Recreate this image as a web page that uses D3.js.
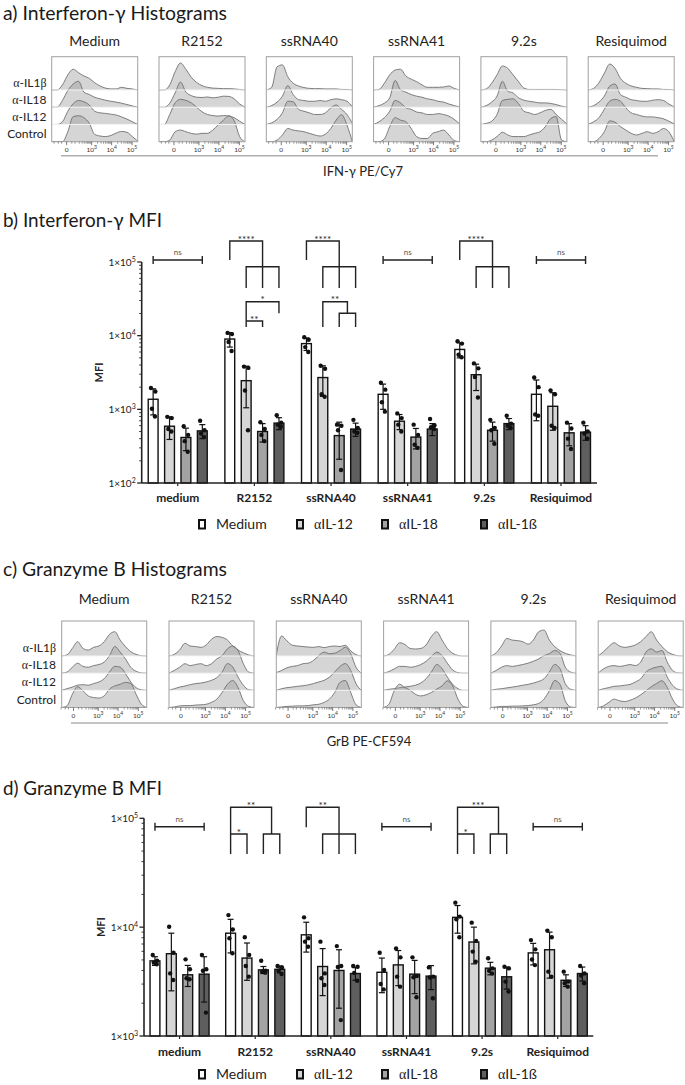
<!DOCTYPE html>
<html><head><meta charset="utf-8">
<script src="https://cdnjs.cloudflare.com/ajax/libs/d3/7.8.5/d3.min.js"></script>
<style>body{margin:0;background:#fff}svg{display:block}text{font-family:Lato,'Open Sans',sans-serif}</style>
</head><body><svg id="c" width="685" height="1085"></svg>
<script>
// ---------------- DATA ----------------
const categories = ['medium','R2152','ssRNA40','ssRNA41','9.2s','Resiquimod'];
const seriesNames = ['Medium','αIL-12','αIL-18','αIL-1ß'];
const histColumns = ['Medium','R2152','ssRNA40','ssRNA41','9.2s','Resiquimod'];
const histRows = ['α-IL1β','α-IL18','α-IL12','Control'];
const histTickValues = [0, 1e3, 1e4, 1e5];
const histTickExp = ['', '3', '4', '5'];
const histMinorTicks = [-200,-100,-50,50,100,200,300,400,500,600,700,800,900,2e3,3e3,4e3,5e3,6e3,7e3,8e3,9e3,2e4,3e4,4e4,5e4,6e4,7e4,8e4,9e4];
const ifnTickValues = [1e2, 1e3, 1e4, 1e5];
const grbTickValues = [1e3, 1e4, 1e5];

// IFN-gamma MFI (panel b): mean, SD, individual donors
const ifnMean = [[1370,590,415,510],[9000,2450,500,650],[7800,2700,440,540],[1600,690,420,540],[6500,2950,520,640],[1600,1100,480,490]];
const ifnSD = [[530,200,140,110],[2000,1400,140,120],[1500,1200,230,110],[600,160,130,100],[1500,1150,150,110],[900,580,160,110]];
const ifnPoints = [
  [[1950,1750,1020,800],[790,760,540,500],[590,450,370,265],[700,520,470,420]],
  [[10900,10500,8200,6200],[3800,3650,1800,520],[670,540,450,370],[830,660,620,580]],
  [[9500,8800,7000,6000],[3900,3550,1600,1480],[620,600,520,150],[720,560,500,480]],
  [[2300,1850,1250,930],[880,760,620,500],[620,450,330,300],[740,610,570,540]],
  [[8400,7800,5500,5100],[4200,3600,2750,1450],[720,560,520,340],[820,640,600,560]],
  [[2700,2000,850,820],[1800,1600,600,560],[660,550,400,290],[660,500,470,400]]
];
// Granzyme B MFI (panel d)
const grbMean = [[4900,5700,3650,3700],[8800,5200,4050,4100],[8500,4350,4000,3750],[3850,4500,3700,3550],[12300,7300,4200,3500],[5800,6200,3250,3750]];
const grbSD = [[450,3100,800,1650],[3000,1950,300,300],[2600,2000,2200,500],[1350,1600,1250,880],[3500,2700,550,800],[1300,2800,400,550]];
const grbPoints = [
  [[5560,4920,4720,4560],[10100,5820,3760,3270],[5060,4100,3390,3320],[5560,4100,3980,1640]],
  [[12900,9500,7900,5750],[8080,5560,4400,3510],[4920,3980,3900,3820],[4400,4270,3980,3710]],
  [[12300,7900,7360,6600],[7360,3760,3390,2940],[6700,4400,4300,1400],[4400,4330,3800,3220]],
  [[5820,4040,3000,2680],[6380,5280,3510,2840],[5280,3560,3460,2270],[4270,3510,3450,2220]],
  [[16800,12500,11800,8080],[11000,7480,5960,4820],[5180,4180,3980,3760],[4330,4180,3160,2560]],
  [[7600,6250,5050,4480],[9300,8080,3900,3510],[3900,3160,3050,2840],[4400,3760,3600,3050]]
];

// Histograms (% of mode, 17 channels), rows: a-IL1b, a-IL18, a-IL12, Control
const ifnHistMedium = [
  [0,0,19,56,77,64,52,43,27,15,7,4,4,10,6,4,0],
  [0,0,25,62,86,96,56,47,37,31,26,22,19,15,10,5,0],
  [0,0,10,49,77,89,84,72,49,43,41,38,35,28,20,10,0],
  [0,0,0,37,93,96,89,68,27,21,19,23,32,38,35,19,2]];
const ifnHistR2152 = [
  [0,0,19,68,100,77,47,28,16,10,7,6,5,5,4,2,0],
  [0,0,15,53,93,56,43,37,36,38,35,37,41,40,31,12,1],
  [0,0,37,80,93,89,80,64,47,37,33,31,33,31,25,12,0],
  [0,0,6,37,43,37,31,28,31,31,43,62,80,96,77,19,0]];
const ifnHistSsRNA40 = [
  [0,10,86,93,49,25,15,9,6,5,5,4,4,4,2,2,0],
  [0,6,19,41,80,47,28,25,22,22,25,22,28,31,28,22,2],
  [0,6,19,43,86,84,56,49,43,37,37,43,62,72,56,37,4],
  [0,0,6,25,49,43,40,37,31,25,21,28,49,80,100,62,0]];
const ifnHistSsRNA41 = [
  [0,2,25,56,74,77,52,40,31,19,10,10,10,11,15,6,0],
  [0,6,15,35,99,65,56,47,41,37,31,28,22,19,12,6,1],
  [0,10,25,49,89,80,62,56,46,43,37,37,40,37,31,19,2],
  [0,0,10,56,89,80,74,49,19,12,12,31,37,43,25,4,0]];
const ifnHist92s = [
  [0,4,25,56,89,80,56,31,7,2,2,2,2,2,2,1,0],
  [0,6,19,41,96,59,53,35,26,22,19,16,16,14,10,4,0],
  [0,4,12,37,89,93,95,77,49,43,37,43,52,56,37,19,2],
  [0,0,6,19,35,25,19,19,19,25,31,37,56,86,93,6,0]];
const ifnHistResiquimod = [
  [0,6,27,62,96,80,43,25,15,10,6,5,4,4,2,2,0],
  [0,6,19,41,78,86,47,37,28,25,22,22,26,28,25,12,1],
  [0,10,25,56,86,93,86,62,43,37,31,28,28,25,21,12,2],
  [0,0,12,37,77,72,56,43,31,25,31,37,31,37,49,37,0]];
const grbHistMedium = [
  [0,4,28,53,28,22,32,37,53,80,90,59,35,16,6,1,0],
  [0,4,22,37,25,22,28,32,41,65,99,78,53,22,7,1,0],
  [0,6,12,19,21,19,25,31,43,68,89,86,62,31,10,2,0],
  [0,6,49,77,62,43,37,35,43,68,80,86,93,89,49,12,0]];
const grbHistR2152 = [
  [0,6,22,47,37,35,32,41,62,72,69,59,37,22,12,4,0],
  [0,10,22,35,28,32,35,28,35,53,65,90,100,84,35,4,0],
  [0,6,12,16,21,25,27,31,37,47,68,99,86,49,19,2,0],
  [0,2,6,7,7,9,10,12,19,31,56,86,100,74,25,4,0]];
const grbHistSsRNA40 = [
  [4,74,56,40,37,35,33,32,35,31,35,37,35,40,19,5,0],
  [2,10,20,25,28,35,37,47,65,78,72,74,84,96,72,22,0],
  [0,6,10,12,15,17,20,25,31,37,49,68,89,99,74,25,0],
  [0,2,4,5,6,6,7,10,12,19,31,56,93,100,56,10,0]];
const grbHistSsRNA41 = [
  [0,6,25,49,43,28,26,28,41,72,90,59,28,10,2,0,0],
  [0,6,16,25,25,22,25,32,44,62,78,65,37,12,2,0,0],
  [0,4,6,10,12,15,19,27,43,68,96,80,49,22,6,0,0],
  [0,12,62,86,74,64,49,43,47,56,68,80,99,80,31,4,0]];
const grbHist92s = [
  [0,12,37,65,59,57,53,44,59,90,96,59,35,20,10,4,0],
  [0,10,22,28,25,28,32,37,44,53,65,72,84,74,22,4,0],
  [0,4,6,9,12,15,19,22,27,33,43,68,96,80,25,4,0],
  [0,2,4,4,5,5,6,7,10,15,31,62,100,86,25,2,0]];
const grbHistResiquimod = [
  [0,16,35,49,37,32,35,41,53,72,90,59,35,16,6,1,0],
  [0,16,25,28,25,28,32,28,41,78,90,78,84,41,10,1,0],
  [0,6,10,15,16,19,22,31,43,68,80,86,89,49,19,4,0],
  [0,6,19,31,25,22,27,35,47,62,77,89,99,74,31,5,0]];

// significance annotations: segments in (bar index, level index)
const ifnSig = [
  {cat:'medium', ns:true},
  {cat:'R2152', label:'****', at:[1,0], segs:[[[0,1],[0,0],[2,0],[2,3]],[[1,3],[1,2],[3,2],[3,3]]]},
  {cat:'R2152', label:'*', at:[2,4], segs:[[[1,7],[1,4],[3,4],[3,5]]]},
  {cat:'R2152', label:'**', at:[1.5,6], segs:[[[1,6],[2,6],[2,7]]]},
  {cat:'ssRNA40', label:'****', at:[1,0], segs:[[[0,1],[0,0],[2,0],[2,3]],[[1,3],[1,2],[3,2],[3,3]]]},
  {cat:'ssRNA40', label:'**', at:[1.75,4], segs:[[[1,7],[1,4],[2.5,4],[2.5,5]],[[2,7],[2,5],[3,5],[3,7]]]},
  {cat:'ssRNA41', ns:true},
  {cat:'9.2s', label:'****', at:[1,0], segs:[[[0,1],[0,0],[2,0],[2,3]],[[1,3],[1,2],[3,2],[3,3]]]},
  {cat:'Resiquimod', ns:true}
];
const grbSig = [
  {cat:'medium', ns:true},
  {cat:'R2152', label:'**', at:[1.25,0], segs:[[[0,3],[0,0],[2.5,0],[2.5,2]],[[2,3],[2,2],[3,2],[3,3]]]},
  {cat:'R2152', label:'*', at:[0.5,2], segs:[[[0,2],[1,2],[1,3]]]},
  {cat:'ssRNA40', label:'**', at:[1,0], segs:[[[0,1],[0,0],[2,0],[2,3]],[[1,3],[1,2],[3,2],[3,3]]]},
  {cat:'ssRNA41', ns:true},
  {cat:'9.2s', label:'***', at:[1.25,0], segs:[[[0,3],[0,0],[2.5,0],[2.5,2]],[[2,3],[2,2],[3,2],[3,3]]]},
  {cat:'9.2s', label:'*', at:[0.5,2], segs:[[[0,2],[1,2],[1,3]]]},
  {cat:'Resiquimod', ns:true}
];

// ---------------- STYLE ----------------
const barFills = ['#ffffff','#d6d6d6','#a3a3a3','#5e5e5e'];
const svg = d3.select('#c');

function title(x,y,s,len){ svg.append('text').attr('x',x).attr('y',y).attr('font-size',20).attr('fill','#1a1a1a')
  .attr('textLength',len).attr('lengthAdjust','spacingAndGlyphs').text(s); }
function greekText(sel, s){
  const parts = s.split(/([αβ])/);
  parts.forEach(p=>{ if(!p) return; const t=sel.append('tspan').text(p); if(p==='α'||p==='β') t.attr('font-family','Liberation Serif, serif'); });
}

// ---------------- HISTOGRAM PANELS ----------------
function drawHist(cfg){
  const g = svg.append('g');
  const band = d3.scaleBand().domain(histColumns).range([cfg.x0, cfg.x0 + 5*cfg.step + cfg.w]).paddingInner((cfg.step-cfg.w)/cfg.step).paddingOuter(0);
  const chan = d3.scaleLinear().domain([0,16]).range([0,cfg.w]);
  const cnt = d3.scaleLinear().domain([0,100]).range([0,-27]);
  const fl = d3.scaleSymlog().constant(64).domain(cfg.flDomain).range([0,cfg.w]);
  const rowY = d3.scaleLinear().domain([0,3]).range([cfg.top+cfg.firstRow, cfg.top+cfg.h]);
  const bottom = cfg.top+cfg.h;
  histColumns.forEach((col,ci)=>{
    const fg = g.append('g').attr('transform',`translate(${band(col)},0)`);
    const id = 'clip'+cfg.id+ci;
    fg.append('clipPath').attr('id',id).append('rect').attr('x',0).attr('y',cfg.top).attr('width',cfg.w).attr('height',cfg.h);
    const inner = fg.append('g').attr('clip-path',`url(#${id})`);
    cfg.data[ci].forEach((row,ri)=>{
      const rg = inner.append('g').attr('transform',`translate(0,${rowY(ri)})`);
      rg.append('path').datum(row).attr('d',d3.area().x((d,i)=>chan(i)).y0(0).y1(d=>cnt(d)).curve(d3.curveMonotoneX))
        .attr('fill','#9c9c9c').attr('fill-opacity',0.42);
      rg.append('path').datum(row).attr('d',d3.line().x((d,i)=>chan(i)).y(d=>cnt(d)).curve(d3.curveMonotoneX))
        .attr('fill','none').attr('stroke','#707070').attr('stroke-width',0.9);
    });
    [0,1,2].forEach(ri=>inner.append('line').attr('x1',0).attr('x2',cfg.w).attr('y1',rowY(ri)).attr('y2',rowY(ri)).attr('stroke','#f4f4f4').attr('stroke-width',1));
    fg.append('rect').attr('x',0).attr('y',cfg.top).attr('width',cfg.w).attr('height',cfg.h).attr('fill','none').attr('stroke','#a0a0a0').attr('stroke-width',1);
    fg.append('text').attr('x',cfg.w/2).attr('y',cfg.colTitleY).attr('text-anchor','middle').attr('font-size',14).attr('fill','#222').text(col);
    histMinorTicks.forEach(v=>fg.append('line').attr('x1',fl(v)).attr('x2',fl(v)).attr('y1',bottom).attr('y2',bottom+2).attr('stroke','#555').attr('stroke-width',0.6));
    histTickValues.forEach((v,k)=>{
      fg.append('line').attr('x1',fl(v)).attr('x2',fl(v)).attr('y1',bottom).attr('y2',bottom+3.5).attr('stroke','#444').attr('stroke-width',0.7);
      const t = fg.append('text').attr('x',fl(v)).attr('y',bottom+10.5).attr('text-anchor','middle').attr('font-size',6.5).attr('fill','#333');
      if(histTickExp[k]===''){ t.text('0'); } else { t.append('tspan').text('10'); t.append('tspan').attr('font-size',5).attr('dy',-3).text(histTickExp[k]); }
    });
  });
  histRows.forEach((r,ri)=>{
    const t = g.append('text').attr('x',cfg.rowLabelX).attr('y',rowY(ri)+cfg.rowLabelDy).attr('text-anchor','end').attr('font-size',12).attr('fill','#222');
    greekText(t, r);
  });
  g.append('line').attr('x1',cfg.lineX0).attr('x2',cfg.lineX1).attr('y1',cfg.lineY).attr('y2',cfg.lineY).attr('stroke','#b0b0b0').attr('stroke-width',1.4);
  g.append('text').attr('x',cfg.labelX).attr('y',cfg.labelY).attr('text-anchor','middle').attr('font-size',13).attr('fill','#222').text(cfg.label);
}

// ---------------- BAR PANELS ----------------
function drawBars(cfg){
  const g = svg.append('g');
  const x = d3.scalePoint().domain(categories).range([cfg.x0,cfg.x1]).padding(0.47);
  const xb = d3.scaleBand().domain(seriesNames).range([-29.5,29.5]).paddingInner(0.4).paddingOuter(0);
  const y = d3.scaleLog().domain(cfg.domain).range([cfg.y0,cfg.y1]);
  const bx = (cat,i)=> x(cat) + xb(seriesNames[0]) + xb.step()*i + xb.bandwidth()/2;
  const minor = [];
  for(let e=Math.log10(cfg.domain[0]); e<Math.log10(cfg.domain[1]); e++) for(let m=2;m<10;m++) minor.push(m*Math.pow(10,e));
  minor.forEach(v=>g.append('line').attr('x1',cfg.x0-2.5).attr('x2',cfg.x0).attr('y1',y(v)).attr('y2',y(v)).attr('stroke','#222').attr('stroke-width',0.9));
  cfg.ticks.forEach(v=>{
    g.append('line').attr('x1',cfg.x0-4.5).attr('x2',cfg.x0).attr('y1',y(v)).attr('y2',y(v)).attr('stroke','#222').attr('stroke-width',1.3);
    const t = g.append('text').attr('x',cfg.x0-6).attr('y',y(v)+3.5).attr('text-anchor','end').attr('font-size',10).attr('fill','#222');
    t.append('tspan').text('1×10');
    t.append('tspan').attr('font-size',7).attr('dy',-4).text(String(Math.round(Math.log10(v))));
  });
  g.append('line').attr('x1',cfg.x0).attr('x2',cfg.x0).attr('y1',cfg.y1).attr('y2',cfg.y0).attr('stroke','#222').attr('stroke-width',1.6);
  g.append('text').attr('transform',`translate(${cfg.x0-39},${(cfg.y0+cfg.y1)/2}) rotate(-90)`).attr('text-anchor','middle').attr('font-size',11).attr('font-weight','bold').attr('fill','#222').text('MFI');
  categories.forEach((cat,ci)=>{
    seriesNames.forEach((s,si)=>{
      const m = cfg.mean[ci][si], sd = cfg.sd[ci][si];
      const cx = bx(cat,si);
      g.append('rect').attr('x',cx-xb.bandwidth()/2).attr('y',y(m)).attr('width',xb.bandwidth()).attr('height',cfg.y0-y(m))
        .attr('fill',barFills[si]).attr('stroke','#111').attr('stroke-width',1.4);
      const hi = m+sd, lo = m-sd;
      const ylo = lo>cfg.domain[0] ? y(lo) : cfg.y0;
      g.append('line').attr('x1',cx).attr('x2',cx).attr('y1',y(hi)).attr('y2',ylo).attr('stroke','#111').attr('stroke-width',1.2);
      g.append('line').attr('x1',cx-3).attr('x2',cx+3).attr('y1',y(hi)).attr('y2',y(hi)).attr('stroke','#111').attr('stroke-width',1.2);
      if(lo>cfg.domain[0]) g.append('line').attr('x1',cx-3).attr('x2',cx+3).attr('y1',y(lo)).attr('y2',y(lo)).attr('stroke','#111').attr('stroke-width',1.2);
      const jit = [-2.2,2.2,-1.2,1.8];
      cfg.points[ci][si].forEach((v,k)=>g.append('circle').attr('cx',cx+jit[k]).attr('cy',y(v)).attr('r',2.2).attr('fill','#111'));
    });
  });
  g.append('line').attr('x1',cfg.x0).attr('x2',cfg.x1).attr('y1',cfg.y0).attr('y2',cfg.y0).attr('stroke','#222').attr('stroke-width',1.6);
  categories.forEach(cat=>{
    g.append('line').attr('x1',x(cat)).attr('x2',x(cat)).attr('y1',cfg.y0).attr('y2',cfg.y0+3).attr('stroke','#222').attr('stroke-width',1.2);
    g.append('text').attr('x',x(cat)).attr('y',cfg.catY).attr('text-anchor','middle').attr('font-size',12).attr('font-weight','bold').attr('fill','#222').text(cat);
  });
  cfg.sig.forEach(s=>{
    const bxi = i=> bx(s.cat,0) + xb.step()*i;
    if(s.ns){
      const yy = cfg.nsY;
      g.append('line').attr('x1',bxi(0)).attr('x2',bxi(3)).attr('y1',yy).attr('y2',yy).attr('stroke','#222').attr('stroke-width',1.4);
      [0,3].forEach(i=>g.append('line').attr('x1',bxi(i)).attr('x2',bxi(i)).attr('y1',yy-4).attr('y2',yy+4).attr('stroke','#222').attr('stroke-width',1.4));
      g.append('text').attr('x',(bxi(0)+bxi(3))/2).attr('y',yy-5).attr('text-anchor','middle').attr('font-size',8).attr('fill','#555').text('ns');
      return;
    }
    s.segs.forEach(seg=>{
      g.append('path').attr('d',d3.line()(seg.map(p=>[bxi(p[0]),cfg.levels[p[1]]]))).attr('fill','none').attr('stroke','#222').attr('stroke-width',1.4);
    });
    g.append('text').attr('x',bxi(s.at[0])).attr('y',cfg.levels[s.at[1]]+1.5).attr('text-anchor','middle').attr('font-size',10).attr('fill','#222').text(s.label);
  });
  seriesNames.forEach((s,i)=>{
    const lx = cfg.legendX[i];
    g.append('rect').attr('x',lx).attr('y',cfg.legendY-9).attr('width',6).attr('height',8.5).attr('fill',barFills[i]).attr('stroke','#111').attr('stroke-width',2);
    const t = g.append('text').attr('x',lx+17).attr('y',cfg.legendY).attr('font-size',14).attr('fill','#222');
    greekText(t,s);
  });
}

// ---------------- DRAW ----------------
title(3,19.5,'a) Interferon-γ Histograms',224);
drawHist({id:'a', data:[ifnHistMedium,ifnHistR2152,ifnHistSsRNA40,ifnHistSsRNA41,ifnHist92s,ifnHistResiquimod],
  x0:51.7, step:107.3, w:86, top:56.7, h:85, firstRow:33.3, colTitleY:45.5, rowLabelX:46.5, rowLabelDy:-3.5,
  flDomain:[-280,188800],
  lineX0:61, lineX1:658, lineY:155.7, label:'IFN-γ PE/Cy7', labelX:363, labelY:176});

title(3,227,'b) Interferon-γ MFI',159);
drawBars({mean:ifnMean, sd:ifnSD, points:ifnPoints, sig:ifnSig, domain:[1e2,1e5], ticks:ifnTickValues,
  x0:141.7, x1:597, y0:483, y1:262, catY:502, nsY:260,
  levels:[241,260,266.7,288,301.7,313.3,321,327],
  legendX:[199,297,382,481], legendY:529});

title(3,576,'c) Granzyme B Histograms',224);
drawHist({id:'c', data:[grbHistMedium,grbHistR2152,grbHistSsRNA40,grbHistSsRNA41,grbHist92s,grbHistResiquimod],
  x0:61.7, step:107.3, w:85, top:621, h:86.5, firstRow:35, colTitleY:604, rowLabelX:56, rowLabelDy:-4,
  flDomain:[-180,260000],
  lineX0:71, lineX1:668, lineY:723, label:'GrB PE-CF594', labelX:369, labelY:746});

title(3,795,'d) Granzyme B MFI',159);
drawBars({mean:grbMean, sd:grbSD, points:grbPoints, sig:grbSig, domain:[1e3,1e5], ticks:grbTickValues,
  x0:144, x1:593.3, y0:1036, y1:818.3, catY:1056, nsY:826.7,
  levels:[807.3,827.3,834,854],
  legendX:[199,297,382,481], legendY:1079});
</script></body></html>
